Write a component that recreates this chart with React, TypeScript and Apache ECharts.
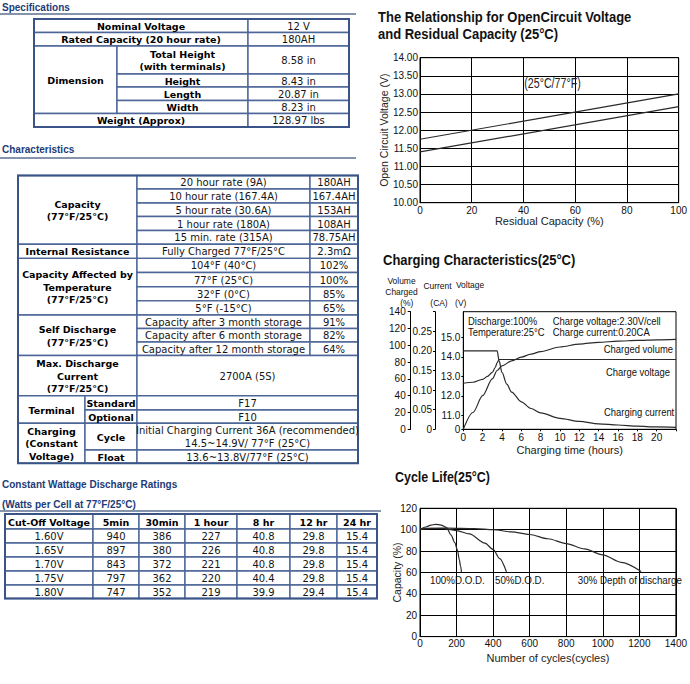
import React, { useEffect, useRef } from 'react';
import * as echarts from 'echarts';

// ================= DATA =================
const sectionTitles = ['Specifications', 'Characteristics', 'Constant Wattage Discharge Ratings', '(Watts per Cell at 77°F/25°C)'];

const specRows = [
  ['Nominal Voltage', '12 V'],
  ['Rated Capacity (20 hour rate)', '180AH'],
];
const dimensionGroup = 'Dimension';
const dimensionRows = [
  ['Total Height\n(with terminals)', '8.58 in'],
  ['Height', '8.43 in'],
  ['Length', '20.87 in'],
  ['Width', '8.23 in'],
];
const weightRow = ['Weight (Approx)', '128.97 lbs'];

const capacityGroup = 'Capacity\n(77°F/25°C)';
const capacityRows = [
  ['20 hour rate (9A)', '180AH'],
  ['10 hour rate (167.4A)', '167.4AH'],
  ['5 hour rate (30.6A)', '153AH'],
  ['1 hour rate (180A)', '108AH'],
  ['15 min. rate (315A)', '78.75AH'],
];
const resistanceRow = ['Internal Resistance', 'Fully Charged 77°F/25°C', '2.3mΩ'];
const tempGroup = 'Capacity Affected by\nTemperature\n(77°F/25°C)';
const tempRows = [
  ['104°F (40°C)', '102%'],
  ['77°F (25°C)', '100%'],
  ['32°F (0°C)', '85%'],
  ['5°F (-15°C)', '65%'],
];
const selfGroup = 'Self Discharge\n(77°F/25°C)';
const selfRows = [
  ['Capacity after 3 month storage', '91%'],
  ['Capacity after 6 month storage', '82%'],
  ['Capacity after 12 month storage', '64%'],
];
const maxDischargeRow = ['Max. Discharge\nCurrent\n(77°F/25°C)', '2700A (5S)'];
const terminalGroup = 'Terminal';
const terminalRows = [
  ['Standard', 'F17'],
  ['Optional', 'F10'],
];
const chargingGroup = 'Charging\n(Constant\nVoltage)';
const chargingRows = [
  ['Cycle', 'Initial Charging Current 36A (recommended)\n14.5~14.9V/ 77°F (25°C)'],
  ['Float', '13.6~13.8V/77°F (25°C)'],
];

const wattHeaders = ['Cut-Off Voltage', '5min', '30min', '1 hour', '8 hr', '12 hr', '24 hr'];
const cutOffVoltages = ['1.60V', '1.65V', '1.70V', '1.75V', '1.80V'];
const watt5min = ['940', '897', '843', '797', '747'];
const watt30min = ['386', '380', '372', '362', '352'];
const watt1hour = ['227', '226', '221', '220', '219'];
const watt8hr = ['40.8', '40.8', '40.8', '40.4', '39.9'];
const watt12hr = ['29.8', '29.8', '29.8', '29.8', '29.4'];
const watt24hr = ['15.4', '15.4', '15.4', '15.4', '15.4'];

// Chart 1: open circuit voltage vs residual capacity
const chart1Title = ['The Relationship for OpenCircuit Voltage', 'and Residual Capacity (25°C)'];
const ocvResidual = [0, 100];
const ocvUpper = [11.75, 13.0];
const ocvLower = [11.4, 12.65];
const ocvNote = '(25°C/77°F)';

// Chart 2: charging characteristics
const chart2Title = 'Charging Characteristics(25°C)';
const voltageTicks = [11, 12, 13, 14, 15];
const voltageBreak = 10.3;
const volumeCharged = [[0, 0], [1, 20], [2, 40], [3, 60], [3.5, 70], [4, 75.5], [5, 81.5], [6, 86], [7, 89.5], [8, 92.5], [10, 98], [12, 101.5], [14, 103.5], [16, 105], [18, 105.8], [20, 106.5], [22, 107]];
const chargeVoltage = [[0, 12.65], [1, 12.7], [2, 12.85], [2.5, 13.0], [3, 13.2], [3.3, 13.45], [3.5, 13.7], [3.7, 13.86], [22, 13.86]];
const chargeCurrent = [[0, 0.2], [3.5, 0.2], [3.7, 0.175], [4, 0.145], [4.5, 0.115], [5, 0.095], [6, 0.07], [7, 0.053], [8, 0.042], [10, 0.028], [12, 0.02], [14, 0.014], [16, 0.011], [18, 0.008], [20, 0.006], [22, 0.005]];
const chargeHeaders = ['Volume', 'Charged', 'Current', 'Voltage', '(%)', '(CA)', '(V)'];
const chargeNotes = ['Discharge:100%', 'Charge voltage:2.30V/cell', 'Temperature:25°C', 'Charge current:0.20CA'];
const chargeCurveNames = ['Charged volume', 'Charge voltage', 'Charging current'];

// Chart 3: cycle life
const chart3Title = 'Cycle Life(25°C)';
const dod100 = [[0, 100], [30, 102.5], [60, 104.2], [85, 105], [115, 104.3], [145, 102], [170, 95], [190, 88], [205, 81], [215, 72], [222, 66], [227, 60.5]];
const dod50 = [[0, 100], [55, 101.3], [120, 101.3], [200, 99.2], [270, 96], [355, 87.5], [400, 81.5], [436, 73], [473, 60.5]];
const dod30 = [[0, 101], [150, 101.5], [300, 101], [400, 100], [500, 98], [600, 95.5], [700, 91.5], [800, 87], [900, 82], [1000, 76.5], [1100, 69.5], [1210, 61]];
const dodLabels = ['100%D.O.D.', '50%D.O.D.', '30% Depth of discharge'];

// ================= LAYOUT / STYLE =================
const FONT_TABLE = '"DejaVu Sans", Verdana, sans-serif';
const FONT_ARIAL = '"Liberation Sans", Arial, sans-serif';
const BLUE_TITLE = '#1d3c78';
const CELL_STROKE = '#4c6697';
const OUTER_STROKE = '#3a5488';

const SPEC_COLS = [34, 117, 248, 349];
const SPEC_ROWS = [19, 32.5, 46, 74, 87, 100.5, 113.5, 127];
const CHAR_COLS = [18, 85, 137, 310, 358];
const CHAR_ROWS = [175.5, 189, 203, 216.5, 230.5, 244.3, 258.4, 272.5, 286.7, 300.9, 315, 328.5, 342, 355.5, 395.7, 410, 423.3, 450, 463.3];
const WATT_COLS = [5, 93, 139, 185, 237, 290, 337, 377];
const WATT_ROWS = [514, 529, 543, 557, 571, 585, 598.5];

type Opt = { size?: number; weight?: string; fill?: string; family?: string; align?: string; lh?: number; vAlign?: string; sx?: number };
function txt(text: string, x: number, y: number, o: Opt = {}) {
  const align = o.align || 'left';
  const v = o.vAlign || 'middle';
  return {
    type: 'text', x, y, z: 30, silent: true, scaleX: o.sx || 1,
    style: {
      text, fill: o.fill || '#000', fontSize: o.size || 10, fontFamily: o.family || FONT_TABLE,
      fontWeight: o.weight || 'normal', textAlign: align, align, textVerticalAlign: v, verticalAlign: v,
      lineHeight: o.lh || 12,
    },
  };
}

function buildTables() {
  const els: any[] = [];
  const cell = (x0: number, y0: number, x1: number, y1: number, text: string, bold: boolean) => {
    els.push({ type: 'rect', z: 10, silent: true, shape: { x: x0, y: y0, width: x1 - x0, height: y1 - y0 }, style: { fill: '#fff', stroke: CELL_STROKE, lineWidth: 1.4 } });
    els.push(txt(text, (x0 + x1) / 2, (y0 + y1) / 2 + 0.5, { align: 'center', weight: bold ? 'bold' : 'normal', size: bold ? 9.5 : 10, lh: 12.5, fill: bold ? '#000' : '#151515' }));
  };
  const outer = (cols: number[], rows: number[]) => {
    els.push({ type: 'rect', z: 15, silent: true, shape: { x: cols[0], y: rows[0], width: cols[cols.length - 1] - cols[0], height: rows[rows.length - 1] - rows[0] }, style: { fill: 'none', stroke: OUTER_STROKE, lineWidth: 2 } });
  };
  const tOpt: Opt = { family: FONT_ARIAL, size: 10, weight: 'bold', fill: BLUE_TITLE };

  els.push(txt(sectionTitles[0], 2, 7, tOpt));
  els.push({ type: 'line', silent: true, shape: { x1: 0, y1: 14, x2: 356, y2: 14 }, style: { stroke: '#8593ad', lineWidth: 2 } });
  els.push(txt(sectionTitles[1], 2, 149, tOpt));
  els.push({ type: 'line', silent: true, shape: { x1: 0, y1: 158, x2: 356, y2: 158 }, style: { stroke: '#8593ad', lineWidth: 2 } });
  els.push(txt(sectionTitles[2], 2, 484, tOpt));
  els.push(txt(sectionTitles[3], 2, 504, tOpt));
  els.push({ type: 'line', silent: true, shape: { x1: 0, y1: 511, x2: 381, y2: 511 }, style: { stroke: '#8593ad', lineWidth: 2 } });

  const C = SPEC_COLS, R = SPEC_ROWS;
  specRows.forEach((r, i) => {
    cell(C[0], R[i], C[2], R[i + 1], r[0], true);
    cell(C[2], R[i], C[3], R[i + 1], r[1], false);
  });
  cell(C[0], R[2], C[1], R[6], dimensionGroup, true);
  dimensionRows.forEach((r, i) => {
    cell(C[1], R[2 + i], C[2], R[3 + i], r[0], true);
    cell(C[2], R[2 + i], C[3], R[3 + i], r[1], false);
  });
  cell(C[0], R[6], C[2], R[7], weightRow[0], true);
  cell(C[2], R[6], C[3], R[7], weightRow[1], false);
  outer(C, R);

  const K = CHAR_COLS, Q = CHAR_ROWS;
  cell(K[0], Q[0], K[2], Q[5], capacityGroup, true);
  capacityRows.forEach((r, i) => {
    cell(K[2], Q[i], K[3], Q[i + 1], r[0], false);
    cell(K[3], Q[i], K[4], Q[i + 1], r[1], false);
  });
  cell(K[0], Q[5], K[2], Q[6], resistanceRow[0], true);
  cell(K[2], Q[5], K[3], Q[6], resistanceRow[1], false);
  cell(K[3], Q[5], K[4], Q[6], resistanceRow[2], false);
  cell(K[0], Q[6], K[2], Q[10], tempGroup, true);
  tempRows.forEach((r, i) => {
    cell(K[2], Q[6 + i], K[3], Q[7 + i], r[0], false);
    cell(K[3], Q[6 + i], K[4], Q[7 + i], r[1], false);
  });
  cell(K[0], Q[10], K[2], Q[13], selfGroup, true);
  selfRows.forEach((r, i) => {
    cell(K[2], Q[10 + i], K[3], Q[11 + i], r[0], false);
    cell(K[3], Q[10 + i], K[4], Q[11 + i], r[1], false);
  });
  cell(K[0], Q[13], K[2], Q[14], maxDischargeRow[0], true);
  cell(K[2], Q[13], K[4], Q[14], maxDischargeRow[1], false);
  cell(K[0], Q[14], K[1], Q[16], terminalGroup, true);
  terminalRows.forEach((r, i) => {
    cell(K[1], Q[14 + i], K[2], Q[15 + i], r[0], true);
    cell(K[2], Q[14 + i], K[4], Q[15 + i], r[1], false);
  });
  cell(K[0], Q[16], K[1], Q[18], chargingGroup, true);
  chargingRows.forEach((r, i) => {
    cell(K[1], Q[16 + i], K[2], Q[17 + i], r[0], true);
    cell(K[2], Q[16 + i], K[4], Q[17 + i], r[1], false);
  });
  outer(K, Q);

  const W = WATT_COLS, V = WATT_ROWS;
  wattHeaders.forEach((h, j) => cell(W[j], V[0], W[j + 1], V[1], h, true));
  const cols = [cutOffVoltages, watt5min, watt30min, watt1hour, watt8hr, watt12hr, watt24hr];
  cutOffVoltages.forEach((_, i) => {
    cols.forEach((col, j) => cell(W[j], V[i + 1], W[j + 1], V[i + 2], col[i], false));
  });
  outer(W, V);
  return els;
}

function buildChartTexts() {
  const els: any[] = [];
  const titleOpt: Opt = { family: FONT_ARIAL, size: 14, weight: 'bold', fill: '#111', sx: 0.93 };
  els.push(txt(chart1Title[0], 378, 17.5, titleOpt));
  els.push(txt(chart1Title[1], 378, 34, titleOpt));
  els.push(txt(chart2Title, 383, 260, titleOpt));
  els.push(txt(chart3Title, 395, 477, { ...titleOpt, sx: 0.89 }));

  els.push(txt(ocvNote, 552.5, 83.5, { family: FONT_ARIAL, size: 14, align: 'center', fill: '#222', sx: 0.76 }));

  const hOpt: Opt = { family: FONT_ARIAL, size: 9, align: 'center', fill: '#111', sx: 0.94 };
  els.push(txt(chargeHeaders[0], 401.5, 281, hOpt));
  els.push(txt(chargeHeaders[1], 401.5, 291.5, hOpt));
  els.push(txt(chargeHeaders[2], 437.5, 286, hOpt));
  els.push(txt(chargeHeaders[3], 470, 285, hOpt));
  els.push(txt(chargeHeaders[4], 406.7, 302.7, hOpt));
  els.push(txt(chargeHeaders[5], 439, 303, hOpt));
  els.push(txt(chargeHeaders[6], 460.7, 303, hOpt));

  const nOpt: Opt = { family: FONT_ARIAL, size: 10.5, fill: '#111', sx: 0.9 };
  els.push(txt(chargeNotes[0], 468, 321, nOpt));
  els.push(txt(chargeNotes[1], 552.7, 321, nOpt));
  els.push(txt(chargeNotes[2], 468, 332.5, nOpt));
  els.push(txt(chargeNotes[3], 552.7, 332.5, nOpt));
  els.push(txt(chargeCurveNames[0], 673, 349, { ...nOpt, align: 'right' }));
  els.push(txt(chargeCurveNames[1], 606, 372, nOpt));
  els.push(txt(chargeCurveNames[2], 604, 412, nOpt));

  const dOpt: Opt = { family: FONT_ARIAL, size: 11.5, fill: '#111', sx: 0.85 };
  els.push(txt(dodLabels[0], 430, 579.5, dOpt));
  els.push(txt(dodLabels[1], 495, 579.5, dOpt));
  els.push(txt(dodLabels[2], 577.7, 579.5, dOpt));
  return els;
}

const zip = (xs: number[], ys: number[]) => xs.map((x, i) => [x, ys[i]]);

const labelStyle = { fontFamily: FONT_ARIAL, fontSize: 10, color: '#111' };
const nameStyle = { fontFamily: FONT_ARIAL, fontSize: 11, color: '#222' };
const yNameStyle = { fontFamily: FONT_ARIAL, fontSize: 10.5, color: '#222' };
const blackLine = { show: true, lineStyle: { color: '#000', width: 1 } };
const gridSplit = { show: true, lineStyle: { color: '#000', width: 1 } };
const lineSeries = (data: number[][], xi: number, yi: number, smooth: number | boolean = false) => ({
  type: 'line', data, xAxisIndex: xi, yAxisIndex: yi, symbol: 'none', smooth, smoothMonotone: 'x',
  lineStyle: { color: '#2a2a2a', width: 1.2 }, silent: true,
});

export default function App() {
  const ref = useRef<HTMLDivElement>(null);
  useEffect(() => {
    if (!ref.current) return;
    const chart = echarts.init(ref.current, undefined, { renderer: 'svg' });
    const option: any = {
      animation: false,
      backgroundColor: '#fff',
      grid: [
        { left: 420, top: 57.7, width: 263, height: 145, show: true, borderColor: '#000', borderWidth: 1 },
        { left: 463.3, top: 311.7, width: 212.7, height: 117.6, show: true, borderColor: '#000', borderWidth: 1 },
        { left: 420, top: 508.3, width: 256.7, height: 128.3, show: true, borderColor: '#000', borderWidth: 1 },
      ],
      xAxis: [
        {
          gridIndex: 0, type: 'value', min: 0, max: 100, interval: 20,
          axisLine: blackLine, axisTick: { show: false }, splitLine: gridSplit,
          axisLabel: { ...labelStyle, margin: 3 },
          name: 'Residual Capacity (%)', nameLocation: 'middle', nameGap: 13, nameMoveOverlap: false, nameTextStyle: nameStyle,
        },
        {
          gridIndex: 1, type: 'value', min: 0, max: 22, interval: 2,
          axisLine: blackLine, axisTick: { show: true, length: 2, lineStyle: { color: '#000' } }, splitLine: { show: false },
          axisLabel: { ...labelStyle, margin: 3, formatter: (v: number) => (v > 21 ? '' : String(v)) },
          name: 'Charging time (hours)', nameLocation: 'middle', nameGap: 15, nameMoveOverlap: false, nameTextStyle: nameStyle,
        },
        {
          gridIndex: 2, type: 'value', min: 0, max: 1400, interval: 200,
          axisLine: blackLine, axisTick: { show: false }, splitLine: gridSplit,
          axisLabel: { ...labelStyle, margin: 2, formatter: (v: number) => String(v) },
          name: 'Number of cycles(cycles)', nameLocation: 'middle', nameGap: 16, nameMoveOverlap: false, nameTextStyle: nameStyle,
        },
      ],
      yAxis: [
        {
          gridIndex: 0, type: 'value', min: 10, max: 14, interval: 0.5,
          axisLine: blackLine, axisTick: { show: false }, splitLine: gridSplit,
          axisLabel: { ...labelStyle, margin: 2, formatter: (v: number) => v.toFixed(2) },
          name: 'Open Circuit Voltage (V)', nameLocation: 'middle', nameRotate: 90, nameGap: 31, nameMoveOverlap: false, nameTextStyle: yNameStyle,
        },
        {
          gridIndex: 1, type: 'value', min: voltageBreak, max: 16.3, position: 'left',
          axisLine: blackLine, axisTick: { show: true, length: 2, customValues: [voltageBreak, ...voltageTicks], lineStyle: { color: '#000' } },
          splitLine: { show: false },
          axisLabel: { ...labelStyle, margin: 3, customValues: [voltageBreak, ...voltageTicks], formatter: (v: number) => (v < 10.5 ? '0' : v.toFixed(1)) },
        },
        {
          gridIndex: 1, type: 'value', min: 0, max: 0.3, interval: 0.05, position: 'left', offset: 28.3,
          axisLine: blackLine, axisTick: { show: true, length: 2, lineStyle: { color: '#000' } }, splitLine: { show: false },
          axisLabel: { ...labelStyle, margin: 3, formatter: (v: number) => (v > 0.29 ? '' : v === 0 ? '0' : v.toFixed(2)) },
        },
        {
          gridIndex: 1, type: 'value', min: 0, max: 140, interval: 20, position: 'left', offset: 52.6,
          axisLine: blackLine, axisTick: { show: true, length: 3, lineStyle: { color: '#000' } }, splitLine: { show: false },
          axisLabel: { ...labelStyle, margin: 5 },
        },
        {
          gridIndex: 2, type: 'value', min: 0, max: 120, interval: 20,
          axisLine: blackLine, axisTick: { show: false }, splitLine: gridSplit,
          axisLabel: { ...labelStyle, margin: 3 },
          name: 'Capacity (%)', nameLocation: 'middle', nameRotate: 90, nameGap: 18, nameMoveOverlap: false, nameTextStyle: yNameStyle,
        },
      ],
      series: [
        lineSeries(zip(ocvResidual, ocvUpper), 0, 0),
        lineSeries(zip(ocvResidual, ocvLower), 0, 0),
        lineSeries(volumeCharged, 1, 3, 0.3),
        lineSeries(chargeVoltage, 1, 1, 0.3),
        lineSeries(chargeCurrent, 1, 2, 0.3),
        lineSeries(dod100, 2, 4, 0.3),
        lineSeries(dod50, 2, 4, 0.3),
        lineSeries(dod30, 2, 4, 0.3),
      ],
      graphic: { elements: [...buildTables(), ...buildChartTexts()] },
    };
    chart.setOption(option);
    return () => chart.dispose();
  }, []);
  return <div ref={ref} style={{ position: 'fixed', left: 0, top: 0, width: 690, height: 684, background: '#fff' }} />;
}
